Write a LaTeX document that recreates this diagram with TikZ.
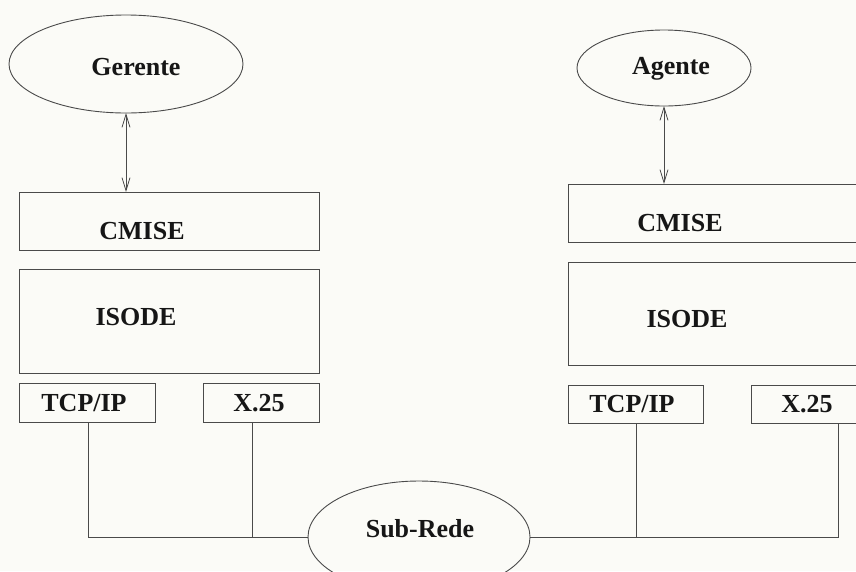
\documentclass[tikz,border=0pt]{standalone}
\usepackage{fontspec}
\setmainfont{Liberation Serif}
\usetikzlibrary{shapes.geometric,arrows.meta}
\definecolor{paper}{HTML}{FBFBF7}
\definecolor{ink}{HTML}{4A4A4A}
\definecolor{txt}{HTML}{161616}
\begin{document}
\begin{tikzpicture}[x=1pt,y=-1pt,
  every node/.style={inner sep=0pt,outer sep=0pt},
  layer/.style={draw=ink,line width=0.9pt,rectangle},
  entity/.style={draw=ink,line width=0.9pt,ellipse},
  lbl/.style={text=txt,font=\fontsize{26}{30}\selectfont\bfseries},
  wire/.style={draw=ink,line width=0.9pt},
  biarrow/.style={draw=ink,line width=0.8pt,{Straight Barb[length=13pt,width=8pt]}-{Straight Barb[length=13pt,width=8pt]}}]
\fill[paper] (0,0) rectangle (856,571);
\useasboundingbox (0,0) rectangle (856,571);
\clip (0,0) rectangle (856,571);

% manager stack
\node[entity,minimum width=234pt,minimum height=98pt] (ger) at (126,64) {};
\node[lbl] (gerT) at (136,67) {Gerente};
\node[layer,minimum width=300pt,minimum height=58pt] (cmiseL) at (169,221) {};
\node[lbl] (cmiseLT) at (142,231) {CMISE};
\node[layer,minimum width=300pt,minimum height=104pt] (isodeL) at (169,321) {};
\node[lbl] (isodeLT) at (136,317) {ISODE};
\node[layer,minimum width=136pt,minimum height=39pt] (tcpL) at (87,402.5) {};
\node[lbl] (tcpLT) at (84,403) {TCP/IP};
\node[layer,minimum width=116pt,minimum height=39pt] (x25L) at (261,402.5) {};
\node[lbl] (x25LT) at (259,403) {X.25};

% agent stack
\node[entity,minimum width=174pt,minimum height=76pt] (age) at (664,68) {};
\node[lbl] (ageT) at (671,69) {Agente};
\node[layer,minimum width=312pt,minimum height=58pt] (cmiseR) at (724,213) {};
\node[lbl] (cmiseRT) at (680,223) {CMISE};
\node[layer,minimum width=312pt,minimum height=103pt] (isodeR) at (724,313.5) {};
\node[lbl] (isodeRT) at (687,319) {ISODE};
\node[layer,minimum width=135pt,minimum height=38pt] (tcpR) at (635.5,404) {};
\node[lbl] (tcpRT) at (632,404) {TCP/IP};
\node[layer,minimum width=116pt,minimum height=38pt] (x25R) at (809,404) {};
\node[lbl] (x25RT) at (807,404) {X.25};

% subnetwork
\node[entity,minimum width=222pt,minimum height=112pt] (sub) at (419,537) {};
\node[lbl] (subT) at (420,529) {Sub-Rede};

% attachment points under the lower layers
\coordinate (tcpLport) at (88,422);
\coordinate (x25Lport) at (252,422);
\coordinate (tcpRport) at (636,423);
\coordinate (x25Rport) at (838,423);

% connectors
\draw[biarrow] (ger.south) -- (ger.south |- cmiseL.north);
\draw[biarrow] (age.south) -- (age.south |- cmiseR.north);
\draw[wire] (tcpLport) -- (tcpLport |- sub.west) -- (sub.west);
\draw[wire] (x25Lport) -- (x25Lport |- sub.west);
\draw[wire] (sub.east) -- (x25Rport |- sub.east) -- (x25Rport);
\draw[wire] (tcpRport) -- (tcpRport |- sub.east);
\end{tikzpicture}
\end{document}
